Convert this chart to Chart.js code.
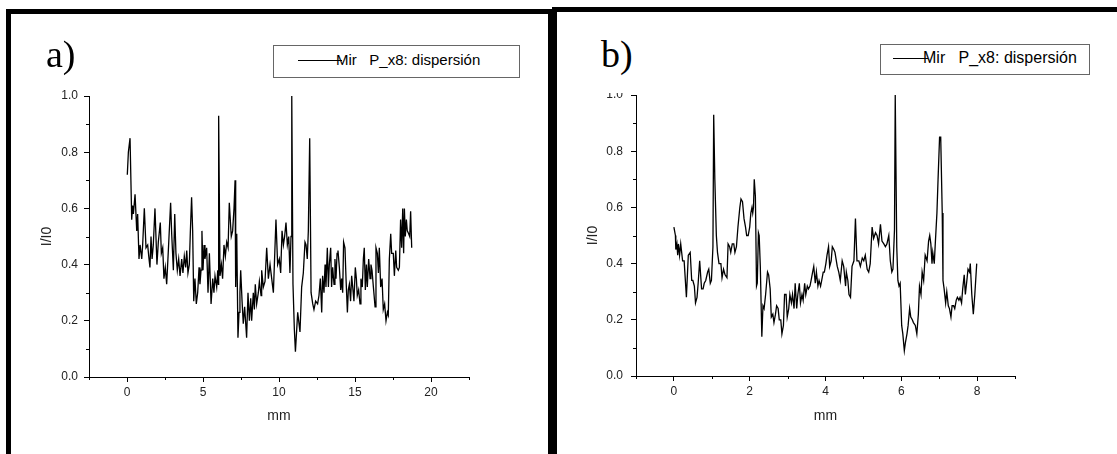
<!DOCTYPE html>
<html>
<head>
<meta charset="utf-8">
<script src="https://cdn.jsdelivr.net/npm/chart.js@4.4.1/dist/chart.umd.min.js"></script>
<style>
  body { margin: 0; background: #fff; }
  #page { position: relative; width: 1117px; height: 454px; overflow: hidden; background: #fff; }
  canvas { position: absolute; }
  .bar { position: absolute; background: #000; z-index: 2; }
  .tag { position: absolute; font-family: 'Liberation Serif', 'Times New Roman', serif; font-size: 38px; line-height: 38px; color: #000; z-index: 2; }
  .legend { position: absolute; border: 1px solid #666; box-sizing: border-box; z-index: 2; background: #fff; }
  .legend .key { position: absolute; height: 1px; background: #000; }
  .legend .txt { position: absolute; font-family: 'Liberation Sans', Arial, sans-serif; line-height: 18px; color: #000; white-space: pre; }
</style>
</head>
<body>
<div id="page">
  <canvas id="chartA" width="548" height="454" style="left:0;top:0"></canvas>
  <canvas id="chartB" width="560" height="361" style="left:557px;top:93px"></canvas>

  <!-- frame of panel a -->
  <div class="bar" style="left:6px;top:9px;width:5px;height:445px"></div>
  <div class="bar" style="left:6px;top:9px;width:551px;height:5px"></div>
  <div class="bar" style="left:548px;top:9px;width:9px;height:445px"></div>
  <!-- top line of panel b -->
  <div class="bar" style="left:552px;top:7px;width:565px;height:5px"></div>

  <div class="tag" style="left:46px;top:35px">a)</div>
  <div class="tag" style="left:601px;top:35px">b)</div>

  <div class="legend" style="left:273px;top:45px;width:247px;height:33px">
    <div class="key" style="left:24px;top:14px;width:44px"></div>
    <div class="txt" style="left:62px;top:5px;font-size:15px">Mir   P_x8: dispersión</div>
  </div>
  <div class="legend" style="left:880px;top:44px;width:210px;height:31px">
    <div class="key" style="left:12px;top:13px;width:35px"></div>
    <div class="txt" style="left:42px;top:4px;font-size:16px">Mir   P_x8: dispersión</div>
  </div>
</div>

<script>
// a) position (mm) and relative intensity I/I0
const mmA = [
  0.02, 0.09, 0.20, 0.31, 0.37, 0.42, 0.53, 0.64, 0.70, 0.79,
  0.86, 0.97, 1.03, 1.14, 1.25, 1.36, 1.43, 1.51, 1.58, 1.65,
  1.73, 1.84, 1.97, 2.06, 2.19, 2.26, 2.35, 2.43, 2.52, 2.61,
  2.72, 2.87, 2.94, 3.05, 3.14, 3.22, 3.31, 3.40, 3.49, 3.60,
  3.68, 3.77, 3.86, 3.93, 4.01, 4.10, 4.17, 4.25, 4.32, 4.39,
  4.47, 4.56, 4.65, 4.74, 4.80, 4.87, 4.93, 5.00, 5.07, 5.13,
  5.24, 5.33, 5.42, 5.53, 5.64, 5.72, 5.79, 5.90, 5.97, 6.01,
  6.03, 6.12, 6.21, 6.29, 6.38, 6.47, 6.56, 6.65, 6.73, 6.86,
  6.95, 7.04, 7.11, 7.15, 7.22, 7.30, 7.37, 7.43, 7.48, 7.57,
  7.65, 7.74, 7.81, 7.87, 7.96, 8.05, 8.14, 8.20, 8.31, 8.38,
  8.44, 8.53, 8.64, 8.71, 8.82, 8.86, 8.97, 9.08, 9.19, 9.30,
  9.41, 9.52, 9.63, 9.80, 9.91, 10.02, 10.11, 10.20, 10.29, 10.37,
  10.46, 10.55, 10.64, 10.72, 10.79, 10.84, 10.92, 11.01, 11.08, 11.23,
  11.38, 11.49, 11.60, 11.71, 11.78, 11.86, 11.93, 12.02, 12.11, 12.22,
  12.30, 12.41, 12.54, 12.63, 12.72, 12.81, 12.87, 12.96, 13.03, 13.09,
  13.18, 13.25, 13.31, 13.40, 13.46, 13.53, 13.62, 13.68, 13.75, 13.82,
  13.88, 13.97, 14.06, 14.12, 14.19, 14.25, 14.34, 14.41, 14.50, 14.56,
  14.63, 14.71, 14.78, 14.85, 14.93, 15.02, 15.09, 15.15, 15.24, 15.33,
  15.39, 15.48, 15.55, 15.61, 15.68, 15.75, 15.81, 15.90, 15.99, 16.05,
  16.12, 16.21, 16.32, 16.38, 16.47, 16.54, 16.60, 16.69, 16.78, 16.86,
  16.95, 17.04, 17.13, 17.19, 17.26, 17.35, 17.41, 17.52, 17.59, 17.68,
  17.74, 17.85, 17.92, 18.00, 18.07, 18.14, 18.20, 18.25, 18.31, 18.38,
  18.44, 18.53, 18.60, 18.66, 18.73
];
const valA = [
  0.72, 0.80, 0.85, 0.56, 0.61, 0.58, 0.65, 0.52, 0.58, 0.42,
  0.47, 0.42, 0.47, 0.60, 0.46, 0.47, 0.43, 0.39, 0.50, 0.42,
  0.47, 0.60, 0.40, 0.48, 0.55, 0.44, 0.46, 0.35, 0.39, 0.33,
  0.45, 0.62, 0.51, 0.38, 0.58, 0.44, 0.38, 0.42, 0.36, 0.42,
  0.37, 0.43, 0.39, 0.45, 0.37, 0.40, 0.52, 0.64, 0.52, 0.27,
  0.35, 0.26, 0.30, 0.39, 0.33, 0.38, 0.52, 0.38, 0.47, 0.42,
  0.46, 0.30, 0.44, 0.26, 0.35, 0.30, 0.36, 0.32, 0.38, 0.33,
  0.93, 0.36, 0.40, 0.35, 0.47, 0.43, 0.48, 0.46, 0.62, 0.50,
  0.52, 0.60, 0.70, 0.32, 0.51, 0.14, 0.23, 0.30, 0.38, 0.27,
  0.19, 0.25, 0.19, 0.14, 0.30, 0.20, 0.28, 0.20, 0.30, 0.24,
  0.33, 0.26, 0.30, 0.34, 0.29, 0.38, 0.32, 0.34, 0.46, 0.35,
  0.40, 0.35, 0.30, 0.56, 0.40, 0.42, 0.37, 0.52, 0.47, 0.50,
  0.55, 0.47, 0.50, 0.37, 0.50, 1.00, 0.33, 0.17, 0.09, 0.23,
  0.16, 0.32, 0.37, 0.48, 0.47, 0.42, 0.52, 0.85, 0.30, 0.26,
  0.24, 0.27, 0.26, 0.29, 0.35, 0.23, 0.36, 0.30, 0.40, 0.32,
  0.46, 0.32, 0.40, 0.46, 0.32, 0.39, 0.33, 0.42, 0.35, 0.44,
  0.45, 0.39, 0.31, 0.35, 0.30, 0.48, 0.46, 0.35, 0.23, 0.31,
  0.33, 0.27, 0.36, 0.32, 0.27, 0.39, 0.35, 0.29, 0.31, 0.26,
  0.35, 0.32, 0.42, 0.46, 0.31, 0.40, 0.32, 0.42, 0.35, 0.40,
  0.38, 0.32, 0.25, 0.46, 0.44, 0.37, 0.46, 0.32, 0.35, 0.24,
  0.26, 0.20, 0.23, 0.22, 0.42, 0.51, 0.44, 0.44, 0.36, 0.45,
  0.39, 0.38, 0.39, 0.56, 0.46, 0.60, 0.44, 0.60, 0.50, 0.56,
  0.52, 0.51, 0.50, 0.59, 0.46
];

// b) position (mm) and relative intensity I/I0
const mmB = [
  0.00, 0.04, 0.05, 0.08, 0.10, 0.12, 0.15, 0.18, 0.23, 0.27,
  0.33, 0.38, 0.43, 0.47, 0.50, 0.54, 0.57, 0.61, 0.64, 0.68,
  0.73, 0.77, 0.80, 0.84, 0.89, 0.92, 0.96, 0.99, 1.03, 1.05,
  1.08, 1.12, 1.15, 1.19, 1.24, 1.27, 1.31, 1.35, 1.40, 1.43,
  1.47, 1.50, 1.54, 1.58, 1.61, 1.65, 1.69, 1.74, 1.77, 1.81,
  1.85, 1.89, 1.92, 1.96, 2.00, 2.03, 2.06, 2.08, 2.10, 2.12,
  2.15, 2.18, 2.20, 2.23, 2.25, 2.28, 2.32, 2.35, 2.38, 2.42,
  2.47, 2.50, 2.54, 2.57, 2.61, 2.64, 2.68, 2.71, 2.75, 2.78,
  2.82, 2.85, 2.89, 2.92, 2.96, 2.99, 3.03, 3.06, 3.10, 3.13,
  3.17, 3.20, 3.24, 3.27, 3.31, 3.34, 3.38, 3.41, 3.45, 3.48,
  3.52, 3.55, 3.59, 3.62, 3.66, 3.69, 3.73, 3.76, 3.80, 3.83,
  3.87, 3.90, 3.94, 3.97, 4.01, 4.04, 4.08, 4.11, 4.15, 4.18,
  4.22, 4.25, 4.31, 4.35, 4.39, 4.44, 4.48, 4.53, 4.55, 4.59,
  4.62, 4.66, 4.70, 4.75, 4.79, 4.83, 4.88, 4.92, 4.97, 5.01,
  5.05, 5.10, 5.14, 5.18, 5.23, 5.27, 5.32, 5.36, 5.40, 5.45,
  5.49, 5.54, 5.58, 5.62, 5.67, 5.71, 5.75, 5.78, 5.82, 5.84,
  5.88, 5.91, 5.94, 5.97, 6.01, 6.04, 6.08, 6.11, 6.15, 6.18,
  6.22, 6.25, 6.29, 6.32, 6.37, 6.41, 6.45, 6.48, 6.52, 6.55,
  6.59, 6.63, 6.68, 6.72, 6.75, 6.78, 6.81, 6.83, 6.87, 6.90,
  6.94, 6.97, 7.01, 7.04, 7.08, 7.10, 7.13, 7.17, 7.20, 7.24,
  7.27, 7.31, 7.34, 7.38, 7.41, 7.45, 7.48, 7.52, 7.55, 7.59,
  7.62, 7.66, 7.69, 7.73, 7.76, 7.80, 7.82, 7.86, 7.90, 7.94,
  7.99
];
const valB = [
  0.53, 0.50, 0.45, 0.47, 0.43, 0.47, 0.43, 0.47, 0.41, 0.41,
  0.28, 0.43, 0.44, 0.34, 0.34, 0.32, 0.26, 0.28, 0.33, 0.41,
  0.31, 0.31, 0.33, 0.34, 0.37, 0.38, 0.33, 0.34, 0.46, 0.93,
  0.70, 0.50, 0.44, 0.40, 0.40, 0.35, 0.38, 0.36, 0.35, 0.47,
  0.46, 0.44, 0.47, 0.47, 0.44, 0.46, 0.53, 0.60, 0.63, 0.62,
  0.56, 0.53, 0.50, 0.50, 0.53, 0.58, 0.60, 0.58, 0.60, 0.70,
  0.64, 0.32, 0.33, 0.51, 0.50, 0.39, 0.14, 0.25, 0.24, 0.29,
  0.37, 0.36, 0.31, 0.21, 0.22, 0.19, 0.22, 0.25, 0.24, 0.20,
  0.20, 0.15, 0.18, 0.29, 0.29, 0.21, 0.24, 0.29, 0.26, 0.29,
  0.24, 0.33, 0.24, 0.29, 0.33, 0.26, 0.29, 0.27, 0.33, 0.29,
  0.32, 0.31, 0.32, 0.34, 0.37, 0.39, 0.33, 0.37, 0.32, 0.34,
  0.32, 0.34, 0.37, 0.37, 0.40, 0.43, 0.46, 0.39, 0.41, 0.46,
  0.45, 0.44, 0.39, 0.37, 0.34, 0.41, 0.39, 0.32, 0.37, 0.34,
  0.29, 0.28, 0.39, 0.41, 0.56, 0.41, 0.41, 0.39, 0.42, 0.41,
  0.43, 0.38, 0.37, 0.40, 0.53, 0.49, 0.51, 0.50, 0.47, 0.54,
  0.48, 0.47, 0.46, 0.47, 0.50, 0.41, 0.37, 0.38, 0.52, 1.00,
  0.46, 0.34, 0.32, 0.33, 0.18, 0.15, 0.09, 0.12, 0.15, 0.18,
  0.24, 0.21, 0.20, 0.19, 0.18, 0.15, 0.22, 0.32, 0.29, 0.37,
  0.34, 0.43, 0.41, 0.48, 0.50, 0.47, 0.40, 0.44, 0.40, 0.48,
  0.58, 0.70, 0.85, 0.85, 0.58, 0.34, 0.31, 0.26, 0.30, 0.25,
  0.24, 0.21, 0.25, 0.25, 0.24, 0.27, 0.28, 0.27, 0.28, 0.26,
  0.31, 0.36, 0.29, 0.34, 0.38, 0.37, 0.40, 0.29, 0.22, 0.29,
  0.40
];

// axes
const yTicks = [0, 0.2, 0.4, 0.6, 0.8, 1.0];
const yMinor = [0.1, 0.3, 0.5, 0.7, 0.9];
const xRangeA = [-2.5, 22.5];
const xTicksA = [0, 5, 10, 15, 20];
const xMinorA = [-2.5, 2.5, 7.5, 12.5, 17.5, 22.5];
const xRangeB = [-1, 9];
const xTicksB = [0, 2, 4, 6, 8];
const xMinorB = [-1, 1, 3, 5, 7, 9];

const SANS = "'Liberation Sans', Arial, sans-serif";

// short unlabeled ticks between the labeled ones
const minorTicks = {
    id: 'minorTicks',
    afterDraw(chart, args, opts) {
        const ctx = chart.ctx;
        const xs = chart.scales.x;
        const ys = chart.scales.y;
        ctx.save();
        ctx.strokeStyle = '#000';
        ctx.lineWidth = 1;
        ctx.beginPath();
        opts.x.forEach(v => {
            const px = Math.round(xs.getPixelForValue(v)) + 0.5;
            ctx.moveTo(px, xs.top);
            ctx.lineTo(px, xs.top + 3);
        });
        opts.y.forEach(v => {
            const py = Math.round(ys.getPixelForValue(v)) + 0.5;
            ctx.moveTo(ys.right, py);
            ctx.lineTo(ys.right - 3, py);
        });
        ctx.stroke();
        ctx.restore();
    }
};

function makeChart(id, mm, vals, xRange, xTicks, xMinor, cfg) {
    const ctx = document.getElementById(id).getContext('2d');
    return new Chart(ctx, {
        type: 'line',
        data: {
            datasets: [{
                data: mm.map((m, i) => ({ x: m, y: vals[i] })),
                borderColor: '#000',
                borderWidth: 1.3,
                pointRadius: 0,
                tension: 0,
                fill: false
            }]
        },
        options: {
            responsive: false,
            animation: false,
            events: [],
            layout: { padding: cfg.padding },
            plugins: {
                legend: { display: false },
                tooltip: { enabled: false },
                minorTicks: { x: xMinor, y: yMinor }
            },
            scales: {
                x: {
                    type: 'linear',
                    min: xRange[0],
                    max: xRange[1],
                    afterBuildTicks: s => { s.ticks = xTicks.map(v => ({ value: v })); },
                    afterFit: s => { s.height = cfg.xHeight; },
                    border: { color: '#000', width: 1 },
                    grid: { drawOnChartArea: false, tickLength: 5, tickColor: '#000' },
                    ticks: { color: '#222', font: { family: SANS, size: 12 }, padding: 3, maxRotation: 0 },
                    title: {
                        display: true, text: 'mm', color: '#222',
                        font: { family: SANS, size: 14 },
                        padding: { top: 0, bottom: 29 }
                    }
                },
                y: {
                    type: 'linear',
                    min: 0,
                    max: 1,
                    afterBuildTicks: s => { s.ticks = yTicks.map(v => ({ value: v })); },
                    afterFit: s => {
                        s.width = cfg.yWidth;
                        s.paddingTop = 0;
                    },
                    border: { color: '#000', width: 1 },
                    grid: { drawOnChartArea: false, tickLength: 5, tickColor: '#000' },
                    ticks: {
                        color: '#222', font: { family: SANS, size: 12 }, padding: cfg.yTickPad,
                        callback: v => v.toFixed(1)
                    },
                    title: {
                        display: true, text: 'I/I0', color: '#222',
                        font: { family: SANS, size: 14 },
                        padding: { top: cfg.yTitlePad, bottom: 0 }
                    }
                }
            }
        },
        plugins: [minorTicks]
    });
}

makeChart('chartA', mmA, valA, xRangeA, xTicksA, xMinorA, {
    padding: { left: 0, right: 79, top: 96, bottom: 0 },
    yWidth: 89, xHeight: 77, yTickPad: 6, yTitlePad: 39
});
makeChart('chartB', mmB, valB, xRangeB, xTicksB, xMinorB, {
    padding: { left: 0, right: 102, top: 2, bottom: 0 },
    yWidth: 79, xHeight: 78, yTickPad: 8, yTitlePad: 28
});
</script>
</body>
</html>
